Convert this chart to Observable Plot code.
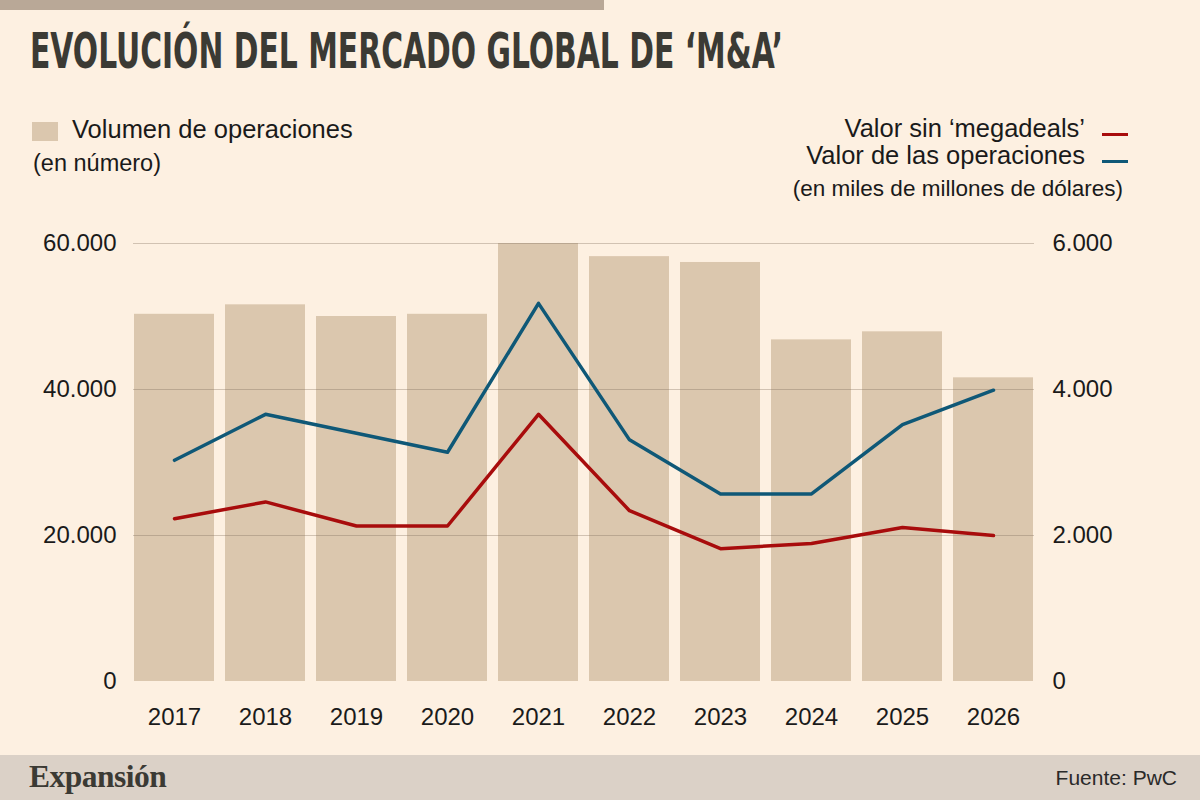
<!DOCTYPE html>
<html>
<head>
<meta charset="utf-8">
<script src="https://cdn.jsdelivr.net/npm/d3@7"></script>
<script src="https://cdn.jsdelivr.net/npm/@observablehq/plot@0.6"></script>
<style>
  html, body { margin: 0; padding: 0; background: #fdf0e1; }
  #page { position: relative; width: 1200px; height: 800px; overflow: hidden; background: #fdf0e1;
          font-family: "Liberation Sans", Arial, sans-serif; color: #1a1a1a; }
  .abs { position: absolute; white-space: nowrap; line-height: 1; }
  #topbar { left: 0; top: 0; width: 604px; height: 10px; background: #b9a897; }
  #title { left: 30px; top: 26px; font-family: "Liberation Sans Narrow", "DejaVu Sans Condensed", "Liberation Sans", sans-serif;
           font-weight: bold; font-size: 50px; color: #3b3a34; transform-origin: 0 0; }
  .leg { font-size: 25.5px; }
  #sq { left: 32px; top: 122px; width: 26px; height: 19px; background: #dbc7ae; }
  .dash { position: absolute; width: 26px; height: 3px; }
  #footer { left: 0; top: 755px; width: 1200px; height: 45px; background: #dbd1c7; }
  #brand { left: 29px; top: 761px; font-family: "Liberation Serif", "DejaVu Serif", serif; font-weight: bold;
           font-size: 31.5px; color: #3b3a34; letter-spacing: -0.5px; }
  #source { right: 23px; top: 767px; font-size: 21px; color: #2a2a2a; }
  #chart { position: absolute; left: 0; top: 200px; }
</style>
</head>
<body>
<div id="page">
  <div id="topbar" class="abs"></div>
  <div id="title" class="abs">EVOLUCIÓN DEL MERCADO GLOBAL DE ‘M&amp;A’</div>

  <div id="sq" class="abs"></div>
  <div class="abs leg" style="left:72px; top:117px;">Volumen de operaciones</div>
  <div class="abs" style="left:33px; top:152px; font-size:23.5px;">(en número)</div>

  <div class="abs leg" style="right:115px; top:116px;">Valor sin ‘megadeals’</div>
  <div class="dash" style="left:1102px; top:133px; background:#a80c0c;"></div>
  <div class="abs leg" style="right:115px; top:143px;">Valor de las operaciones</div>
  <div class="dash" style="left:1102px; top:160px; background:#0f5877;"></div>
  <div class="abs" style="right:77px; top:178px; font-size:22.5px;">(en miles de millones de dólares)</div>

  <div id="chart"></div>

  <div id="footer" class="abs"></div>
  <div id="brand" class="abs">Expansión</div>
  <div id="source" class="abs">Fuente: PwC</div>
</div>
<script>
// ---- Data ----
const years = ["2017", "2018", "2019", "2020", "2021", "2022", "2023", "2024", "2025", "2026"];
// Volumen de operaciones (en número)
const volumen = [50300, 51600, 50000, 50300, 60000, 58200, 57400, 46800, 47900, 41600];
// Valor de las operaciones (miles de millones de dólares)
const valorTotal = [3030, 3660, 3400, 3140, 5180, 3310, 2570, 2570, 3520, 3990];
// Valor sin 'megadeals' (miles de millones de dólares)
const valorSinMega = [2230, 2460, 2130, 2130, 3660, 2340, 1820, 1890, 2110, 2000];
// Axis ticks
const leftTicks = [0, 20000, 40000, 60000];
const gridTicks = [20000, 40000, 60000];

const data = years.map((y, i) => ({year: y, volumen: volumen[i], total: valorTotal[i], sinMega: valorSinMega[i]}));

const fmt = d3.formatLocale({decimal: ",", thousands: ".", grouping: [3], currency: ["", "€"]}).format(",");
// right axis (0–6.000) shares the pixel mapping of the left axis (0–60.000): factor 10
const K = 10;

const font = "'Liberation Sans', Arial, sans-serif";

const chart = Plot.plot({
  width: 1200,
  height: 550,
  marginTop: 43,
  marginBottom: 69,
  marginLeft: 133,
  marginRight: 166,
  style: {background: "transparent", fontFamily: font, fontSize: "24px", color: "#1a1a1a"},
  x: {domain: years, paddingInner: 0.123, paddingOuter: 0, label: null},
  y: {domain: [0, 60000], label: null},
  marks: [
    Plot.barY(data, {x: "year", y: "volumen", fill: "#dbc7ae"}),
    Plot.ruleY(gridTicks, {stroke: "#7d6c5c", strokeOpacity: 0.35, strokeWidth: 1}),
    Plot.lineY(data, {x: "year", y: d => d.total * K, stroke: "#0f5877", strokeWidth: 3.5}),
    Plot.lineY(data, {x: "year", y: d => d.sinMega * K, stroke: "#a80c0c", strokeWidth: 3.5}),
    Plot.axisX({tickSize: 0, tickPadding: 26, fontSize: 24, label: null}),
    Plot.axisY({anchor: "left", ticks: leftTicks, tickSize: 0, tickPadding: 17, tickFormat: fmt, fontSize: 24, label: null}),
    Plot.axisY({anchor: "right", ticks: leftTicks, tickSize: 0, tickPadding: 18, tickFormat: d => fmt(d / K), fontSize: 24, label: null})
  ]
});
document.getElementById("chart").appendChild(chart);

// fit the condensed title to the reference width
const t = document.getElementById("title");
const w = t.getBoundingClientRect().width;
t.style.transform = `scaleX(${753 / w})`;
</script>
</body>
</html>
